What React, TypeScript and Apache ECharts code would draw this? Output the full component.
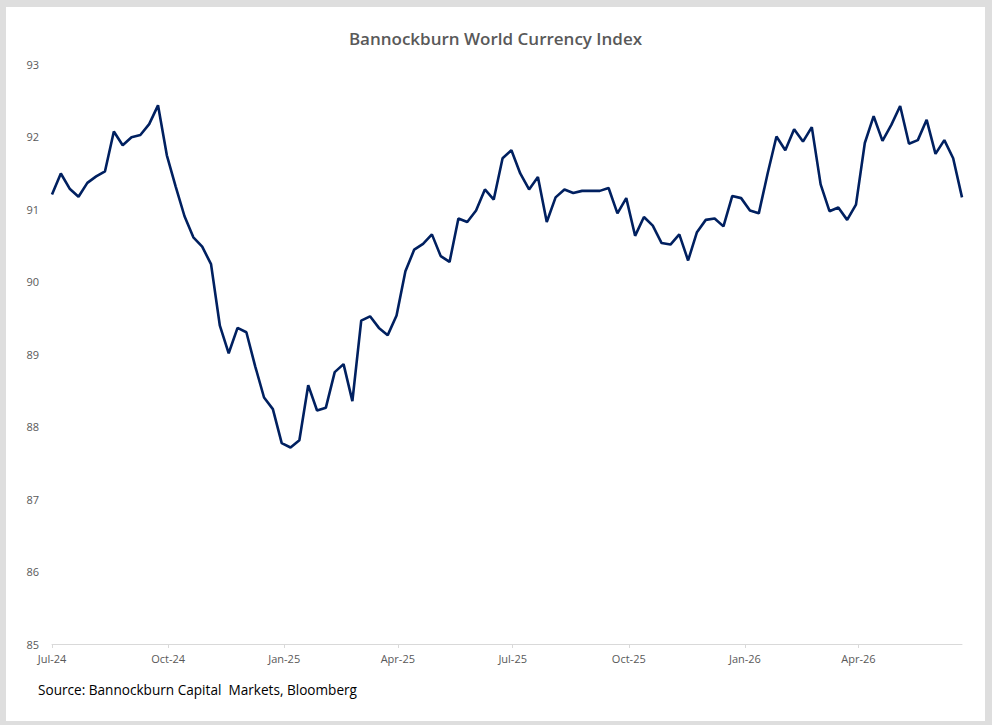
import React, { useEffect, useRef } from "react";
import * as echarts from "echarts";

// Weekly index values, starting 5 Jul 2024
const indexValues: number[] = [
  91.20, 91.49, 91.28, 91.17, 91.36, 91.45, 91.52, 92.07, 91.88, 91.99,
  92.02, 92.17, 92.43, 91.74, 91.31, 90.90, 90.61, 90.48, 90.24, 89.39,
  89.01, 89.36, 89.30, 88.83, 88.40, 88.24, 87.77, 87.71, 87.81, 88.57,
  88.22, 88.26, 88.75, 88.86, 88.35, 89.46, 89.52, 89.36, 89.26, 89.53,
  90.14, 90.44, 90.52, 90.65, 90.35, 90.27, 90.87, 90.82, 90.98, 91.27,
  91.13, 91.70, 91.81, 91.49, 91.27, 91.44, 90.82, 91.16, 91.27, 91.22,
  91.25, 91.25, 91.25, 91.29, 90.94, 91.15, 90.63, 90.89, 90.77, 90.53,
  90.51, 90.65, 90.29, 90.68, 90.85, 90.87, 90.76, 91.18, 91.15, 90.98,
  90.94, 91.49, 92.00, 91.81, 92.10, 91.93, 92.13, 91.34, 90.97, 91.02,
  90.85, 91.06, 91.91, 92.28, 91.94, 92.16, 92.42, 91.90, 91.95, 92.23,
  91.76, 91.95, 91.70, 91.16,
];

const dayMs = 24 * 3600 * 1000;
const startDate = Date.UTC(2024, 6, 5);
const weekDays = 7;

const tickDates: number[] = [
  Date.UTC(2024, 6, 5),
  Date.UTC(2024, 9, 5),
  Date.UTC(2025, 0, 5),
  Date.UTC(2025, 3, 5),
  Date.UTC(2025, 6, 5),
  Date.UTC(2025, 9, 5),
  Date.UTC(2026, 0, 5),
  Date.UTC(2026, 3, 5),
];
const tickLabels: string[] = [
  "Jul-24", "Oct-24", "Jan-25", "Apr-25", "Jul-25", "Oct-25", "Jan-26", "Apr-26",
];

const yTicks: number[] = [85, 86, 87, 88, 89, 90, 91, 92, 93];

const titleText = "Bannockburn World Currency Index";
const sourceText = "Source: Bannockburn Capital  Markets, Bloomberg";

export default function App() {
  const ref = useRef<HTMLDivElement>(null);

  useEffect(() => {
    if (!ref.current) return;
    const chart = echarts.init(ref.current, undefined, { renderer: "svg" });
    const seriesData = indexValues.map((v, i) => [i * weekDays, v]);
    const endDay = (indexValues.length - 1) * weekDays;
    const tickDays = tickDates.map((d) => Math.round((d - startDate) / dayMs));

    chart.setOption({
      animation: false,
      backgroundColor: "#ffffff",
      title: {
        text: titleText,
        left: "center",
        top: 18,
        textStyle: {
          fontFamily: "Open Sans",
          fontWeight: 600,
          fontSize: 17,
          color: "#595959",
        },
      },
      grid: { left: 46, right: 23, top: 57, bottom: 77, containLabel: false },
      xAxis: {
        type: "value",
        min: 0,
        max: endDay,
        axisLine: { show: true, lineStyle: { color: "#d9d9d9", width: 1 } },
        axisTick: {
          show: true,
          customValues: tickDays,
          length: 4,
          lineStyle: { color: "#d9d9d9" },
        },
        axisLabel: {
          customValues: tickDays,
          color: "#595959",
          fontFamily: "Open Sans",
          fontSize: 11,
          margin: 9,
          formatter: (val: number) => {
            const idx = tickDays.indexOf(Math.round(val));
            return idx >= 0 ? tickLabels[idx] : "";
          },
        },
        splitLine: { show: false },
      },
      yAxis: {
        type: "value",
        min: yTicks[0],
        max: yTicks[yTicks.length - 1],
        interval: 1,
        axisLine: { show: false },
        axisTick: { show: false },
        splitLine: { show: false },
        axisLabel: {
          color: "#595959",
          fontFamily: "Open Sans",
          fontSize: 11,
          margin: 13,
        },
      },
      series: [
        {
          type: "line",
          data: seriesData,
          symbol: "none",
          lineStyle: { color: "#002060", width: 2.6 },
        },
      ],
      graphic: [
        {
          type: "text",
          left: 32,
          top: 675,
          style: {
            text: sourceText,
            fontFamily: "Open Sans",
            fontSize: 13.6,
            fill: "#000000",
          },
        },
      ],
    });

    return () => chart.dispose();
  }, []);

  return (
    <div
      style={{
        position: "absolute",
        left: 0,
        top: 0,
        width: 992,
        height: 725,
        background: "#dedede",
      }}
    >
      <div
        ref={ref}
        style={{
          position: "absolute",
          left: 6,
          top: 7,
          width: 979,
          height: 714,
          background: "#ffffff",
        }}
      />
    </div>
  );
}
